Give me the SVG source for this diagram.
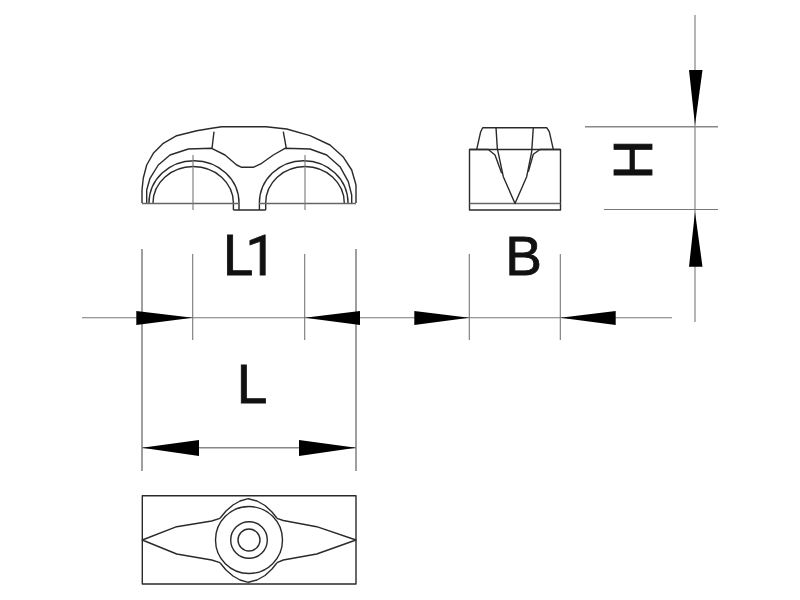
<svg xmlns="http://www.w3.org/2000/svg" width="800" height="600" viewBox="0 0 800 600">
<style>
.o{fill:none;stroke:#2a2a2a;stroke-width:1.4;stroke-linejoin:round}
.f{fill:none;stroke:#666;stroke-width:1.5}
.d{fill:none;stroke:#777;stroke-width:1.1}
.m{fill:none;stroke:#888;stroke-width:1.6}
.a{fill:#000;stroke:none}
.t{font-family:"Liberation Sans",Arial,sans-serif;font-size:55px;fill:#111;stroke:#111;stroke-width:.8}
.r{font-family:Roboto,"Liberation Sans",sans-serif;font-size:56px;letter-spacing:-7.5px}
</style>
<rect width="800" height="600" fill="#fff"/>
<g id="front-view">
<polyline class="o" points="142,203 142,190 143.3,178 146.7,165 153.3,153.3 163.3,143.3 176.7,135.7 196.7,130.7 211.7,128.3 221.7,126.7 266,126.7 286.7,129 310,135.7 330,145 343,156.7 351.7,170 356,185 356,203"/>
<polyline class="o" points="146.7,203 146.7,190 150,178.3 158.3,165 170,155 188.3,149 211.7,148.3 225,155 236.7,165 241.7,167.3 253.3,167.3 261.7,163.3 273.3,155 285,148.3 310,149 326.7,155 340,166.7 348.3,181.7 351.7,195 351.7,203"/>
<path class="o" d="M149,203A45,42.3 0 0 1 239,203V210"/>
<path class="o" d="M153,203A40.2,36.5 0 0 1 233.4,203V210"/>
<path class="o" d="M259.4,210V203A44.3,42.3 0 0 1 348,203"/>
<path class="o" d="M265.7,210V203A39.3,36.5 0 0 1 344.3,203"/>
<path class="f" d="M142,203.5H239M259,203.5H356"/>
<path class="o" d="M233.4,210H265.7"/>
<path class="o" d="M214,131.7L212,148.3M283.3,131.7L286.3,148.3"/>
<path class="d" d="M193,155V210M305,155V210"/>
</g>
<g id="side-view">
<rect class="o" x="469.5" y="149.5" width="91" height="60.5"/>
<path class="f" d="M469.5,203.5H560.5"/>
<polyline class="o" points="476.7,149.3 480.7,131.7 482.7,127.7 546.7,127.7 549.3,131.7 553.3,149.3"/>
<polyline class="o" points="496,127.5 497.3,148.3 503.3,176.7 515,203.5 526.7,176.7 531.7,151.7 533.3,127.5"/>
<polyline class="o" points="469.5,149.5 488.3,149.5 495,155 501.7,173.3"/>
<polyline class="o" points="560.5,149.5 540,149.5 533.3,154.3 528.3,171.7"/>
</g>
<g id="top-view">
<rect class="o" x="142.3" y="495.7" width="213.7" height="88.3"/>
<circle class="o" cx="249" cy="540" r="33.5"/>
<circle class="o" cx="249" cy="540" r="18.3"/>
<circle class="o" cx="249" cy="540" r="11"/>
<polyline class="o" points="220,518.3 226,511 233,505 240,501 248.3,498.7 257,501 265,505.5 272,512 277,518.3"/>
<polyline class="o" points="220,562.7 226,570 233,576 240,580 248.3,582.3 257,580 265,575.5 272,569 277,562.7"/>
<polyline class="o" points="220,518.3 211.7,521 176.7,526.7 142.3,540 176.7,554 211.7,560 220,562.7"/>
<polyline class="o" points="277,518.3 283.3,520.5 316.7,526.7 356,540 316.7,554 283.3,560 277,562.7"/>
</g>
<g id="connectors">
<path class="m" d="M142,249V471M356,249V471"/>
<path class="d" d="M192.7,254V340M304.7,254V340M469.3,254V340M560.3,254V340"/>
<path class="d" d="M82,317.7H672"/>
<path class="m" d="M142,447.7H356"/>
<path class="d" d="M695,15V322"/>
<path class="m" d="M585,126.7H718"/>
<path class="d" d="M604,209.5H718"/>
<polygon class="a" points="136.3,311 192.7,317.7 136.3,325"/>
<polygon class="a" points="360,311 304.7,317.7 360,325"/>
<polygon class="a" points="414.3,311 469.3,317.7 414.3,325"/>
<polygon class="a" points="615.7,311 560.3,317.7 615.7,325"/>
<polygon class="a" points="142,447.7 199,440 199,456"/>
<polygon class="a" points="356,447.7 299,440 299,456"/>
<polygon class="a" points="689,70 702.5,70 695,125"/>
<polygon class="a" points="689,266.7 702.5,266.7 695,212"/>
</g>
<g id="labels">
<text class="t r" x="222.7" y="275">L1</text>
<text class="t" x="236.7" y="402.5">L</text>
<text class="t" x="505.3" y="275">B</text>
<text class="t" transform="translate(651.7,179.6) rotate(-90)">H</text>
</g>
</svg>
